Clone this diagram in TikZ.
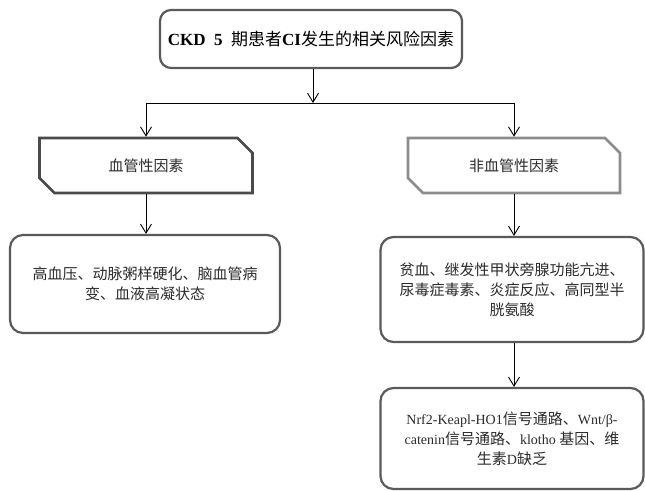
\documentclass[tikz,border=0pt]{standalone}
\usepackage{fontspec}
\setmainfont{Liberation Serif}
\newfontfamily\cjk{Noto Sans CJK SC}
\usetikzlibrary{shapes.misc,arrows.meta}
\definecolor{boxgray}{HTML}{5A5A5A}
\definecolor{hexdark}{HTML}{4A4A4A}
\definecolor{hexlight}{HTML}{8C8C8C}
\definecolor{textgray}{HTML}{2B2B2B}
\newcommand\latn[1]{{\fontsize{14}{20}\selectfont\rmfamily #1}}
\begin{document}
\begin{tikzpicture}[x=1pt,y=-1pt,
  rbox/.style={draw=boxgray,line width=2.2pt,rounded corners=13pt,fill=white,
    align=center,inner sep=0pt,text=textgray,
    font=\fontsize{15}{20}\selectfont\cjk},
  hexbox/.style={chamfered rectangle,
    chamfered rectangle corners={north east,south west},
    chamfered rectangle xsep=8pt,chamfered rectangle ysep=8pt,
    line width=2.6pt,inner sep=0pt,fill=white,text=textgray,
    font=\fontsize{15}{20}\selectfont\cjk},
  conn/.style={draw=black,line width=0.9pt},
  arr/.style={conn,-{Straight Barb[length=9pt,width=11pt]}}
]
\useasboundingbox[fill=white] (0,0) rectangle (645,490);

\node[rbox,rounded corners=11pt,text=black,font=\fontsize{17}{20}\selectfont,
  minimum width=302pt,minimum height=58pt] (t) at (311,39)
  {\textbf{CKD\enspace 5}\enspace{\cjk 期患者}\textbf{CI}{\cjk 发生的相关风险因素}};

\node[hexbox,draw=hexdark,minimum width=213pt,minimum height=55pt] (v)
  at (146,165.5) {血管性因素};
\node[hexbox,draw=hexlight,minimum width=212pt,minimum height=55pt] (n)
  at (514,165.5) {非血管性因素};

\node[rbox,minimum width=270pt,minimum height=98pt] (l) at (145,284)
  {高血压、动脉粥样硬化、脑血管病\\变、血液高凝状态};
\node[rbox,minimum width=263pt,minimum height=105pt] (r) at (512,289.5)
  {贫血、继发性甲状旁腺功能亢进、\\尿毒症毒素、炎症反应、高同型半\\胱氨酸};
\node[rbox,minimum width=263pt,minimum height=101pt] (b) at (512,438.5)
  {\latn{Nrf2-Keapl-HO1}信号通路、\latn{Wnt/β-}\\
   \latn{catenin}信号通路、\latn{klotho }基因、维\\
   生素\latn{D}缺乏};

\coordinate (j) at (313,103);
\coordinate (jl) at (v.north |- j);
\coordinate (jr) at (n.north |- j);
\draw[arr] (t.south -| j) -- (j);
\draw[conn] (jl) -- (jr);
\draw[arr] (jl) -- (v.north);
\draw[arr] (jr) -- (n.north);
\draw[arr] (v.south) -- (v.south |- l.north);
\draw[arr] (n.south) -- (n.south |- r.north);
\draw[arr] (r.south -| n.south) -- (n.south |- b.north);
\end{tikzpicture}
\end{document}
